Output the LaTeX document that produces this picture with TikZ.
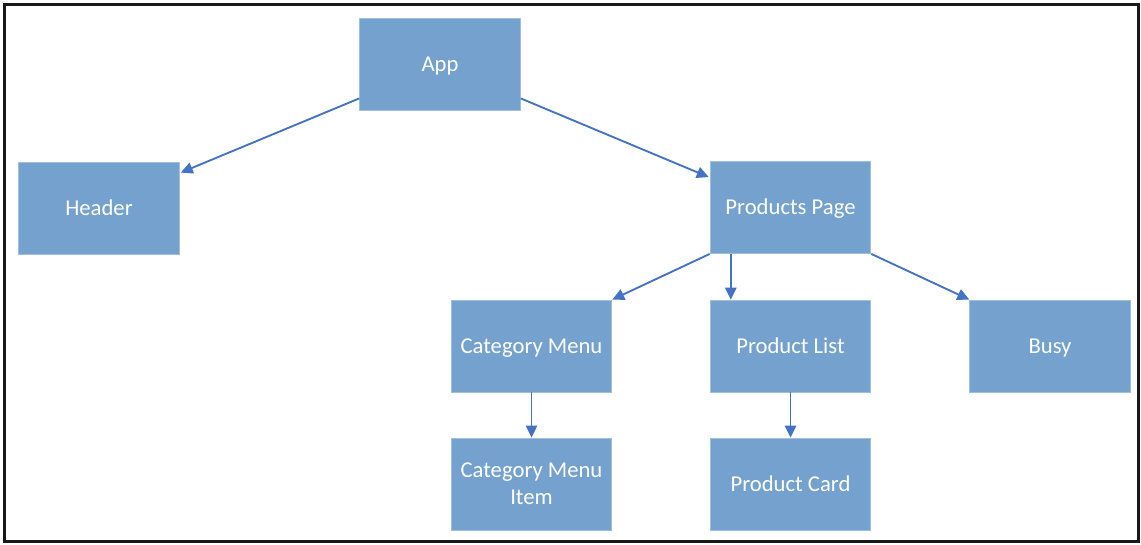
\documentclass[tikz,border=0pt]{standalone}
\usepackage{fontspec}
\setmainfont{Carlito}
\usetikzlibrary{arrows.meta,calc,positioning}
\definecolor{BoxBlue}{RGB}{116,161,206}
\definecolor{BoxEdge}{RGB}{160,190,222}
\definecolor{LinkBlue}{RGB}{68,114,196}

\begin{document}
\begin{tikzpicture}[x=0.75pt,y=-0.75pt,>={Triangle[length=9pt,width=8.5pt]},
    comp/.style={draw=BoxEdge,line width=0.6pt,fill=BoxBlue,text=white,
      minimum width=120.5pt,minimum height=69pt,inner sep=0pt,
      text height=12pt,text depth=1.5pt,
      align=center,font=\fontsize{17}{20}\selectfont},
    link/.style={->,line width=1.4pt,LinkBlue}]
  \useasboundingbox (0,0) rectangle (1141,544);
  \draw[line width=2.4pt,black!90] (4.5,4.5) rectangle (1138.5,541.5);
  % components
  \node[comp] (app) at (440,64) {App};
  \node[comp] (header) at (99,208) {Header};
  \node[comp] (page) at (790.5,207.5) {Products Page};
  \node[comp] (menu) at (531.5,346) {Category Menu};
  \node[comp] (list) at (790.5,346) {Product List};
  \node[comp] (busy) at (1050,346) {Busy};
  \node[comp,text height=,text depth=] (item) at (531.5,484)
    {Category Menu\\Item};
  \node[comp] (card) at (790.5,484) {Product Card};
  % links
  \draw[link] ($(app.south west)+(0,-12)$) -- ($(header.north east)+(1,11)$);
  \draw[link] ($(app.south east)+(0,-12)$) -- ($(page.north west)+(-1,16)$);
  \draw[link] (page.south west) -- (menu.north east);
  \draw[link] ($(page.south west)+(21,0)$) -- ($(list.north west)+(21,0)$);
  \draw[link] (page.south east) -- (busy.north west);
  \draw[link] (menu) -- (item);
  \draw[link] (list) -- (card);
\end{tikzpicture}
\end{document}
